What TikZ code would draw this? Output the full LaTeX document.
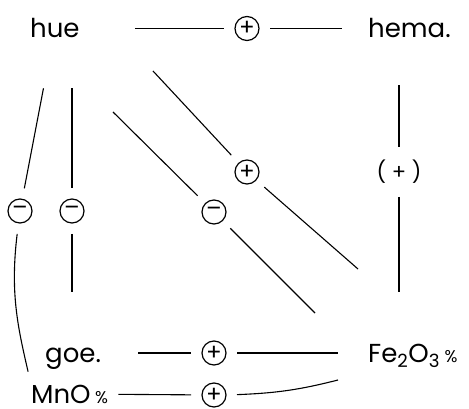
\documentclass[tikz,border=0pt]{standalone}
\usepackage{fontspec}
\setmainfont{Poppins}
\usetikzlibrary{positioning}
\tikzset{
  lab/.style={font=\fontsize{26}{28}\selectfont,inner sep=0pt,text height=19pt,text depth=0pt},
  sign/.style={draw,circle,line width=1.2pt,minimum size=24pt,inner sep=0pt,outer sep=11pt,font=\fontsize{23}{23}\selectfont},
  link/.style={line width=1.1pt}
}
\newcommand{\pct}{{\fontsize{17}{17}\selectfont\ \%}}

\begin{document}
\begin{tikzpicture}[x=1pt,y=-1pt]
\useasboundingbox (0,0) rectangle (469,409);

% variables
\node[lab,anchor=west] (hue) at (30,28.5) {hue};
\node[lab,anchor=west] (hema) at (368,28.5) {hema.};
\node[lab,anchor=west] (goe) at (45,353) {goe.};
\node[lab,anchor=west] (fe) at (368,353) {Fe\textsubscript{2}O\textsubscript{3}\pct};
\node[lab,anchor=west] (mno) at (31,394) {MnO\pct};

% signs
\node[sign] (p1) at (247,28.5) {+};
\node[sign] (m1) at (20,211) {–};
\node[sign] (m2) at (72,211) {–};
\node[sign] (p2) at (247,172) {+};
\node[sign] (m3) at (214,212) {–};
\node[inner sep=0pt,outer sep=13pt,font=\fontsize{21}{21}\selectfont] (pp) at (399,172) {( + )};
\node[sign] (p5) at (214,353) {+};
\node[sign] (p6) at (214,395) {+};

% free ends
\coordinate (d1a) at (153,71);
\coordinate (d1b) at (358,269);
\coordinate (d2a) at (113,112);
\coordinate (d2b) at (315,313);
\coordinate (e1) at (338,380);

% links
\draw[link,shorten <=55pt] (hue) -- (p1);
\draw[link,shorten >=26pt] (p1) -- (hema);
\draw[link,shorten <=51pt] (hue) -- (m1);
\draw[link,shorten >=13pt] (m1) to[out=-97,in=103] (mno.north west);
\draw[link,shorten <=50pt] (m2 |- hue.south) -- (m2);
\draw[link,shorten >=51pt] (m2) -- (m2 |- goe.north);
\draw[link] (d1a) -- (p2);
\draw[link] (p2) -- (d1b);
\draw[link] (d2a) -- (m3);
\draw[link] (m3) -- (d2b);
\draw[link,shorten <=47pt] (pp |- hema.south) -- (pp);
\draw[link,shorten >=51pt] (pp) -- (pp |- fe.north);
\draw[link,shorten <=37pt] (goe) -- (p5);
\draw[link,shorten >=30pt] (p5) -- (fe);
\draw[link,shorten <=10pt] (mno) -- (p6);
\draw[link] (p6) to[bend right=6] (e1);
\end{tikzpicture}
\end{document}
